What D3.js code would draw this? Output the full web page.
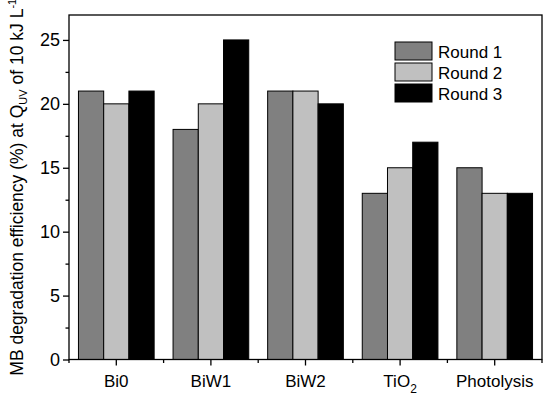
<!DOCTYPE html>
<html><head><meta charset="utf-8">
<script src="https://cdn.jsdelivr.net/npm/d3@7"></script>
<style>body{margin:0;background:#fff}svg{display:block}text{font-family:"Liberation Sans",Arial,sans-serif;fill:#000}</style>
</head><body>
<svg id="c" width="550" height="397"></svg>
<script>
const categories = ["Bi0","BiW1","BiW2","TiO2","Photolysis"];
const seriesNames = ["Round 1","Round 2","Round 3"];
const round1 = [21,18,21,13,15];
const round2 = [20,20,21,15,13];
const round3 = [21,25,20,17,13];
const yTicks = [0,5,10,15,20,25];
const colors = ["#808080","#c0c0c0","#000000"];
const series = [round1, round2, round3];

const svg = d3.select("#c");
const L=69, R=542, T=15, B=359.5;
const x = d3.scaleBand().domain(categories).range([L,R]).paddingInner(0.2).paddingOuter(0.1);
const xs = d3.scaleBand().domain(seriesNames).range([0,x.bandwidth()]);
const y = d3.scaleLinear().domain([0,26.95]).range([B,T]);

// bars
categories.forEach((c,i)=>{
  series.forEach((s,j)=>{
    svg.append("rect").attr("x",x(c)+xs(seriesNames[j])).attr("y",y(s[i]))
      .attr("width",xs.bandwidth()).attr("height",y(0)-y(s[i]))
      .attr("fill",colors[j]).attr("stroke","#000").attr("stroke-width",1);
  });
});

// frame
svg.append("rect").attr("x",L).attr("y",T).attr("width",R-L).attr("height",B-T)
  .attr("fill","none").attr("stroke","#000").attr("stroke-width",1.3);

// y axis
const yAxis = d3.axisLeft(y).tickValues(yTicks).tickSize(6).tickPadding(3).tickFormat(d3.format("d"));
const gy = svg.append("g").attr("transform",`translate(${L},0)`).call(yAxis);
gy.select(".domain").remove();
gy.selectAll("text").attr("font-size","18px").attr("font-family","Liberation Sans, Arial, sans-serif");
gy.selectAll("line").attr("stroke-width",1.3);
const minorY = d3.range(2.5,27,5);
svg.append("g").attr("transform",`translate(${L},0)`).call(d3.axisLeft(y).tickValues(minorY).tickSize(3.5).tickFormat(""))
  .call(g=>{g.select(".domain").remove(); g.selectAll("line").attr("stroke-width",1.3);});

// x axis
const xAxis = d3.axisBottom(x).tickSize(6).tickPadding(6).tickFormat("");
const gx = svg.append("g").attr("transform",`translate(0,${B})`).call(xAxis);
gx.select(".domain").remove();
gx.selectAll("line").attr("stroke-width",1.3);
// minor x ticks between groups
const step = x.step();
const minorX = categories.slice(0,-1).map(c=>x(c)+x.bandwidth()/2+step/2);
minorX.unshift(x(categories[0])+x.bandwidth()/2-step/2);
minorX.push(x(categories[categories.length-1])+x.bandwidth()/2+step/2);
svg.append("g").selectAll("line").data(minorX).join("line")
  .attr("x1",d=>d).attr("x2",d=>d).attr("y1",B).attr("y2",B+3.5).attr("stroke","#000").attr("stroke-width",1.3);

// x labels
categories.forEach(c=>{
  const t = svg.append("text").attr("x",x(c)+x.bandwidth()/2).attr("y",387).attr("text-anchor","middle").attr("font-size","17px");
  if(c==="TiO2"){
    t.append("tspan").text("TiO");
    t.append("tspan").attr("font-size","12px").attr("dy",6).text("2");
  } else t.text(c);
});

// y title
const yt = svg.append("text").attr("transform",`translate(23,${(T+B)/2+0}) rotate(-90)`).attr("text-anchor","middle").attr("font-size","17.5px");
yt.append("tspan").text("MB degradation efficiency (%) at Q");
yt.append("tspan").attr("font-size","11px").attr("dy",4).text("UV");
yt.append("tspan").attr("dy",-4).text(" of 10 kJ L");
yt.append("tspan").attr("font-size","11px").attr("dy",-7).text("-1");

// legend
const lg = svg.append("g");
seriesNames.forEach((n,j)=>{
  lg.append("rect").attr("x",395).attr("y",42+j*21).attr("width",37).attr("height",18)
    .attr("fill",colors[j]).attr("stroke","#000").attr("stroke-width",1);
  lg.append("text").attr("x",438).attr("y",57.5+j*21).attr("font-size","17px").text(n);
});
</script>
</body></html>
